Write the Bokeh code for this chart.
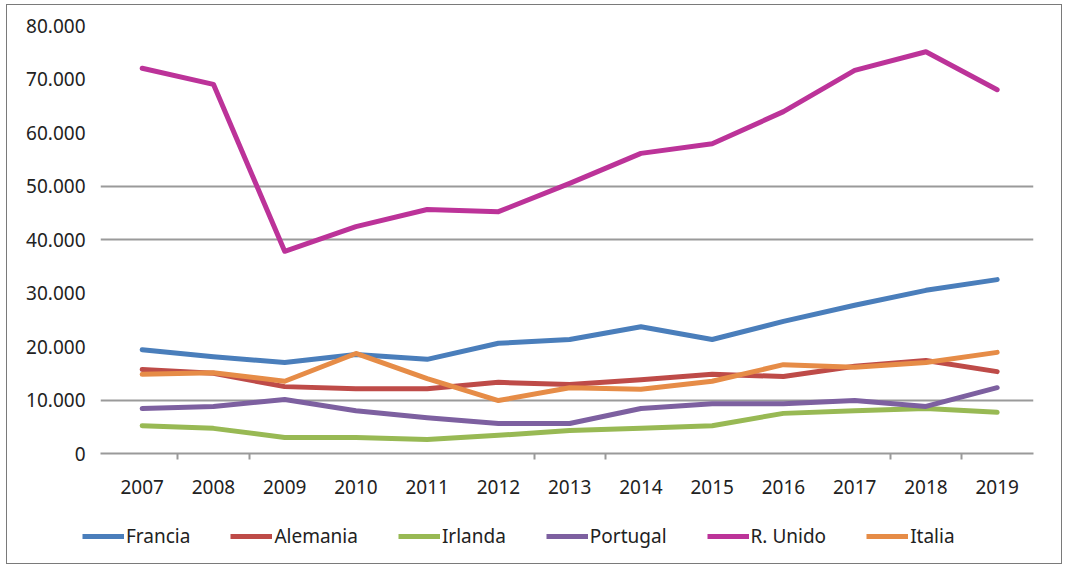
from bokeh.plotting import figure
from bokeh.layouts import column, row
from bokeh.models import Range1d, FixedTicker, Legend, LegendItem, Grid, CustomJSTickFormatter
from bokeh.embed import file_html
from bokeh.resources import INLINE

years = [2007, 2008, 2009, 2010, 2011, 2012, 2013, 2014, 2015, 2016, 2017, 2018, 2019]
francia = [19400, 18100, 17000, 18500, 17600, 20600, 21300, 23700, 21300, 24700, 27700, 30500, 32500]
alemania = [15700, 15000, 12500, 12100, 12100, 13300, 12900, 13800, 14800, 14400, 16300, 17400, 15300]
irlanda = [5200, 4700, 3000, 3000, 2600, 3400, 4300, 4700, 5200, 7500, 8000, 8400, 7700]
portugal = [8400, 8800, 10100, 8000, 6700, 5600, 5600, 8400, 9300, 9300, 9900, 8800, 12300]
r_unido = [72000, 69000, 37800, 42400, 45600, 45200, 50500, 56100, 57900, 63900, 71600, 75100, 68000]
italia = [14800, 15100, 13500, 18700, 14000, 9900, 12300, 12000, 13500, 16600, 16100, 17000, 18900]

series_names = ["Francia", "Alemania", "Irlanda", "Portugal", "R. Unido", "Italia"]
series_values = [francia, alemania, irlanda, portugal, r_unido, italia]
colors = ["#4A7EBB", "#BE4B48", "#98B954", "#7D60A0", "#BC3399", "#E68C47"]

y_ticks = [0, 10000, 20000, 30000, 40000, 50000, 60000, 70000, 80000]
grid_ticks = [0, 10000, 40000, 50000]
top_line = [80000]
x_tick_marks = [2007.5, 2008.5, 2012.5, 2013.5, 2017.5, 2018.5]

FONT = "Noto Sans"
TXT = "#222222"

# ---- main chart ----
p = figure(width=1054, height=500, output_backend="svg", toolbar_location=None,
           x_range=Range1d(2006.415, 2019.51), y_range=Range1d(0, 80000),
           min_border_left=93, min_border_right=28, min_border_top=20, min_border_bottom=52,
           background_fill_color="white", border_fill_color="white")
p.title.visible = False
p.outline_line_color = None

p.xgrid.visible = False
p.ygrid.ticker = FixedTicker(ticks=grid_ticks)
p.ygrid.grid_line_color = "#9a9a9a"
p.ygrid.grid_line_width = 2
top_grid = Grid(dimension=1, ticker=FixedTicker(ticks=top_line), grid_line_color="#1a1a1a", grid_line_width=2)
p.add_layout(top_grid)

p.xaxis.ticker = FixedTicker(ticks=years, minor_ticks=x_tick_marks)
p.xaxis.axis_line_color = "#9a9a9a"
p.xaxis.axis_line_width = 2
p.xaxis.major_tick_line_color = None
p.xaxis.major_tick_out = 0
p.xaxis.minor_tick_line_color = "#9a9a9a"
p.xaxis.minor_tick_line_width = 2
p.xaxis.minor_tick_out = 6
p.xaxis.minor_tick_in = 0
p.xaxis.major_label_standoff = 20
p.xaxis.major_label_text_font = FONT
p.xaxis.major_label_text_font_size = "19px"
p.xaxis.major_label_text_color = TXT

p.yaxis.ticker = FixedTicker(ticks=y_ticks)
p.yaxis.formatter = CustomJSTickFormatter(code="return tick == 0 ? '0' : (tick/1000).toFixed(0) + '.000';")
p.yaxis.axis_line_color = None
p.yaxis.major_tick_line_color = None
p.yaxis.major_tick_out = 0
p.yaxis.major_tick_in = 0
p.yaxis.minor_tick_line_color = None
p.yaxis.major_label_standoff = 15
p.yaxis.major_label_text_font = FONT
p.yaxis.major_label_text_font_size = "19px"
p.yaxis.major_label_text_color = TXT

for name, vals, c in zip(series_names, series_values, colors):
    p.line(years, vals, line_color=c, line_width=5, line_join="round", line_cap="round")

# ---- legend strip (same series, drawn outside its visible range so only the legend shows) ----
lg = figure(width=1054, height=58, output_backend="svg", toolbar_location=None,
            x_range=Range1d(0, 1), y_range=Range1d(0, 1),
            x_axis_location=None, y_axis_location=None, min_border=0,
            background_fill_color="white", border_fill_color="white")
lg.title.visible = False
lg.outline_line_color = None
lg.grid.visible = False
items = []
for name, vals, c in zip(series_names, series_values, colors):
    r = lg.line(years, vals, line_color=c, line_width=5)
    items.append(LegendItem(label=name, renderers=[r]))

legend = Legend(items=items, orientation="horizontal", location=(75, 14),
                glyph_width=42, glyph_height=20, label_height=20, label_standoff=2, spacing=40,
                padding=0, margin=0, border_line_color=None, background_fill_alpha=0,
                label_text_font=FONT, label_text_font_size="19px", label_text_color=TXT)
lg.add_layout(legend)

layout = column(p, row(lg), spacing=0, styles={"border": "1px solid #7a7a7a", "margin": "4px 0 0 6px"})

open("out.html", "w").write(file_html(layout, INLINE))
